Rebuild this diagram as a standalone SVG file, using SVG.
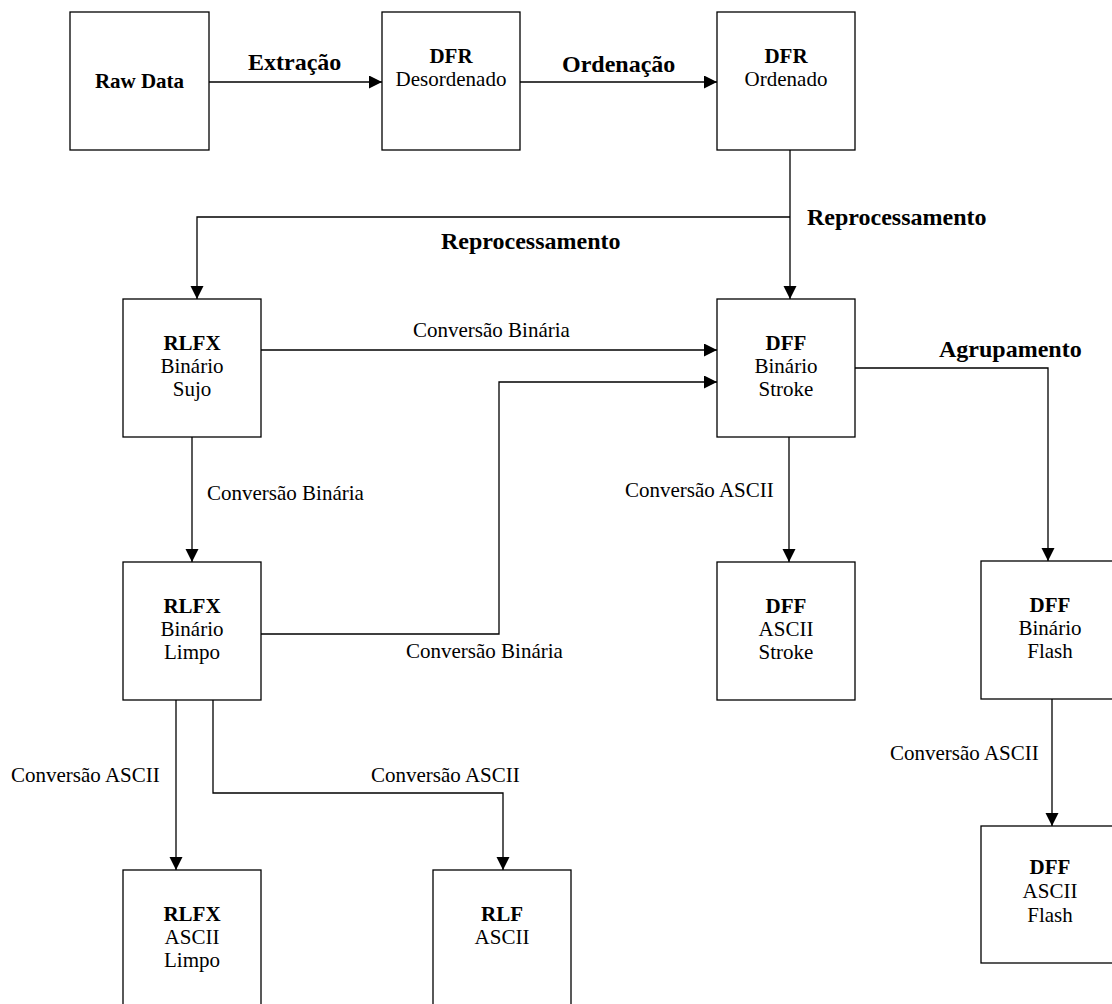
<svg xmlns="http://www.w3.org/2000/svg" width="1112" height="1004" viewBox="0 0 1112 1004">
<style>
.box{fill:#fff;stroke:#000;stroke-width:1.3}
.t{font-family:"Liberation Serif","Times New Roman",serif;font-size:21px;fill:#000;text-anchor:middle}
.b{font-weight:bold}
.lbl{font-family:"Liberation Serif","Times New Roman",serif;font-size:21px;fill:#000}
.lb{font-family:"Liberation Serif","Times New Roman",serif;font-size:24px;font-weight:bold;fill:#000}
.c{fill:none;stroke:#000;stroke-width:1.3}
</style>
<defs>
<marker id="ah" markerUnits="userSpaceOnUse" markerWidth="14" markerHeight="14" refX="13" refY="6.5" orient="auto">
<path d="M0,0 L13,6.5 L0,13 z" fill="#000"/>
</marker>
</defs>
<rect width="1112" height="1004" fill="#fff"/>
<g id="connectors">
<path class="c" d="M209,82 H382" marker-end="url(#ah)"/>
<path class="c" d="M520,82 H717" marker-end="url(#ah)"/>
<path class="c" d="M790,150 V299" marker-end="url(#ah)"/>
<path class="c" d="M790,217 H197 V299" marker-end="url(#ah)"/>
<path class="c" d="M261,350 H717" marker-end="url(#ah)"/>
<path class="c" d="M192,437 V562" marker-end="url(#ah)"/>
<path class="c" d="M261,634 H499 V382 H717" marker-end="url(#ah)"/>
<path class="c" d="M855,368 H1048 V561" marker-end="url(#ah)"/>
<path class="c" d="M789,437 V562" marker-end="url(#ah)"/>
<path class="c" d="M1052,699 V826" marker-end="url(#ah)"/>
<path class="c" d="M176,700 V870" marker-end="url(#ah)"/>
<path class="c" d="M213,700 V793 H503 V870" marker-end="url(#ah)"/>
<text class="lb" x="248" y="70">Extração</text>
<text class="lb" x="562" y="72">Ordenação</text>
<text class="lb" x="807" y="225">Reprocessamento</text>
<text class="lb" x="441" y="249">Reprocessamento</text>
<text class="lbl" x="413" y="337">Conversão Binária</text>
<text class="lbl" x="207" y="500">Conversão Binária</text>
<text class="lbl" x="406" y="658">Conversão Binária</text>
<text class="lb" x="939" y="357">Agrupamento</text>
<text class="lbl" x="625" y="497">Conversão ASCII</text>
<text class="lbl" x="890" y="760">Conversão ASCII</text>
<text class="lbl" x="11" y="782">Conversão ASCII</text>
<text class="lbl" x="371" y="782">Conversão ASCII</text>
</g>
<g id="raw-data">
<rect class="box" x="70" y="12" width="139" height="138"/>
<text class="t b" x="139.5" y="88">Raw Data</text>
</g>
<g id="dfr-desordenado">
<rect class="box" x="382" y="12" width="138" height="138"/>
<text class="t b" x="451" y="63">DFR</text>
<text class="t" x="451" y="86">Desordenado</text>
</g>
<g id="dfr-ordenado">
<rect class="box" x="717" y="12" width="138" height="138"/>
<text class="t b" x="786" y="63">DFR</text>
<text class="t" x="786" y="86">Ordenado</text>
</g>
<g id="rlfx-binario-sujo">
<rect class="box" x="123" y="299" width="138" height="138"/>
<text class="t b" x="192" y="350">RLFX</text>
<text class="t" x="192" y="373">Binário</text>
<text class="t" x="192" y="396">Sujo</text>
</g>
<g id="dff-binario-stroke">
<rect class="box" x="717" y="299" width="138" height="138"/>
<text class="t b" x="786" y="350">DFF</text>
<text class="t" x="786" y="373">Binário</text>
<text class="t" x="786" y="396">Stroke</text>
</g>
<g id="rlfx-binario-limpo">
<rect class="box" x="123" y="562" width="138" height="138"/>
<text class="t b" x="192" y="613">RLFX</text>
<text class="t" x="192" y="636">Binário</text>
<text class="t" x="192" y="659">Limpo</text>
</g>
<g id="dff-ascii-stroke">
<rect class="box" x="717" y="562" width="138" height="138"/>
<text class="t b" x="786" y="613">DFF</text>
<text class="t" x="786" y="636">ASCII</text>
<text class="t" x="786" y="659">Stroke</text>
</g>
<g id="dff-binario-flash">
<rect class="box" x="981" y="561" width="138" height="138"/>
<text class="t b" x="1050" y="612">DFF</text>
<text class="t" x="1050" y="635">Binário</text>
<text class="t" x="1050" y="658">Flash</text>
</g>
<g id="dff-ascii-flash">
<rect class="box" x="981" y="826" width="138" height="137"/>
<text class="t b" x="1050" y="874">DFF</text>
<text class="t" x="1050" y="898">ASCII</text>
<text class="t" x="1050" y="922">Flash</text>
</g>
<g id="rlfx-ascii-limpo">
<rect class="box" x="123" y="870" width="138" height="150"/>
<text class="t b" x="192" y="921">RLFX</text>
<text class="t" x="192" y="944">ASCII</text>
<text class="t" x="192" y="967">Limpo</text>
</g>
<g id="rlf-ascii">
<rect class="box" x="433" y="870" width="138" height="150"/>
<text class="t b" x="502" y="921">RLF</text>
<text class="t" x="502" y="944">ASCII</text>
</g>
</svg>
